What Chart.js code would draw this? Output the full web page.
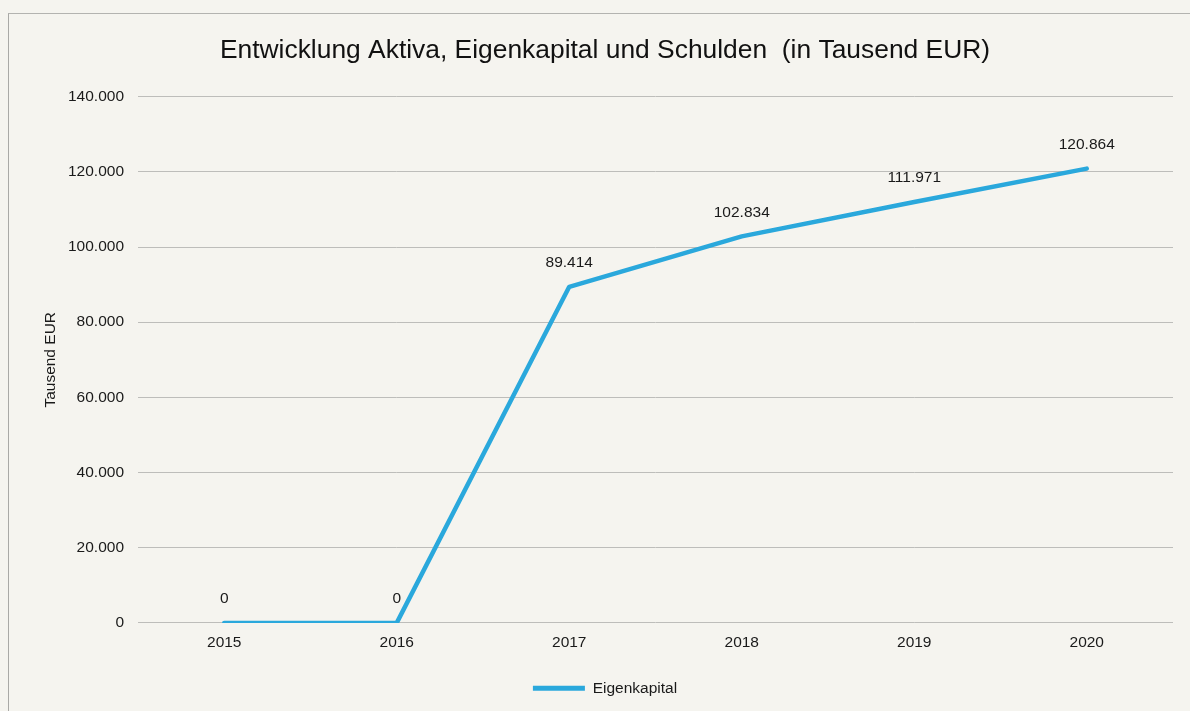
<!DOCTYPE html>
<html lang="de">
<head>
<meta charset="utf-8">
<title>Entwicklung Aktiva, Eigenkapital und Schulden</title>
<script src="https://cdn.jsdelivr.net/npm/chart.js@4.4.1/dist/chart.umd.min.js"></script>
<style>
  html, body { margin: 0; padding: 0; background: #f5f4ef; }
  #wrap { position: relative; width: 1190px; height: 711px; overflow: hidden; }
  #frame {
    position: absolute; left: 8px; top: 13px; width: 1200px; height: 720px;
    border-left: 1px solid #a9a9a6; border-top: 1px solid #b3b3b0;
  }
  #myChart { position: absolute; left: 0; top: 0; }
</style>
</head>
<body>
<div id="wrap">
  <div id="frame"></div>
  <canvas id="myChart" width="1190" height="711"></canvas>
</div>
<script>
// Jahre und Werte (in Tausend EUR)
const years = ['2015', '2016', '2017', '2018', '2019', '2020'];
const eigenkapital = [0, 0, 89414, 102834, 111971, 120864];
const yTicks = [0, 20000, 40000, 60000, 80000, 100000, 120000, 140000];

const lineColor = '#2aa8dc';
const fmt = v => v.toLocaleString('de-DE');

Chart.defaults.font.family = '"Liberation Sans", Arial, sans-serif';
Chart.defaults.color = '#1a1a1a';

// Wertbeschriftung über jedem Punkt
const valueLabels = {
    id: 'valueLabels',
    afterDatasetsDraw(chart) {
        const ctx = chart.ctx;
        const meta = chart.getDatasetMeta(0);
        ctx.save();
        ctx.font = '15.5px "Liberation Sans", Arial, sans-serif';
        ctx.fillStyle = '#1a1a1a';
        ctx.textAlign = 'center';
        ctx.textBaseline = 'middle';
        meta.data.forEach((pt, i) => {
            ctx.fillText(fmt(eigenkapital[i]), pt.x, pt.y - 24);
        });
        ctx.restore();
    }
};

const ctx = document.getElementById('myChart').getContext('2d');
new Chart(ctx, {
    type: 'line',
    data: {
        labels: years,
        datasets: [{
            label: 'Eigenkapital',
            data: eigenkapital,
            borderColor: lineColor,
            backgroundColor: lineColor,
            borderWidth: 4.5,
            pointRadius: 0,
            tension: 0,
            borderCapStyle: 'round',
            borderJoinStyle: 'round'
        }]
    },
    options: {
        responsive: false,
        animation: false,
        layout: { padding: { left: 37, right: 17, top: 0, bottom: 5 } },
        scales: {
            x: {
                offset: true,
                grid: { display: false, drawTicks: false },
                border: { display: false },
                ticks: { font: { size: 15.5 }, padding: 11, color: '#1a1a1a' }
            },
            y: {
                min: 0,
                max: 140000,
                afterBuildTicks: axis => { axis.ticks = yTicks.map(v => ({ value: v })); },
                afterFit: axis => { axis.width = 101; },
                grid: { color: '#bdbdba', lineWidth: 1, drawTicks: false },
                border: { display: false },
                ticks: { font: { size: 15.5 }, padding: 14, callback: v => fmt(v) },
                title: {
                    display: true,
                    text: 'Tausend EUR',
                    font: { size: 15.5 },
                    padding: { top: 4, bottom: 0 }
                }
            }
        },
        plugins: {
            title: {
                display: true,
                text: 'Entwicklung Aktiva, Eigenkapital und Schulden  (in Tausend EUR)',
                font: { size: 26.4, weight: 'normal' },
                color: '#111',
                padding: { top: 35, bottom: 30 }
            },
            legend: {
                position: 'bottom',
                labels: {
                    boxWidth: 52,
                    boxHeight: 5,
                    font: { size: 15.5 },
                    padding: 17,
                    generateLabels: chart => Chart.defaults.plugins.legend.labels.generateLabels(chart)
                        .map(l => ({ ...l, lineWidth: 0, fillStyle: lineColor }))
                }
            },
            tooltip: { enabled: false }
        }
    },
    plugins: [valueLabels]
});
</script>
</body>
</html>
